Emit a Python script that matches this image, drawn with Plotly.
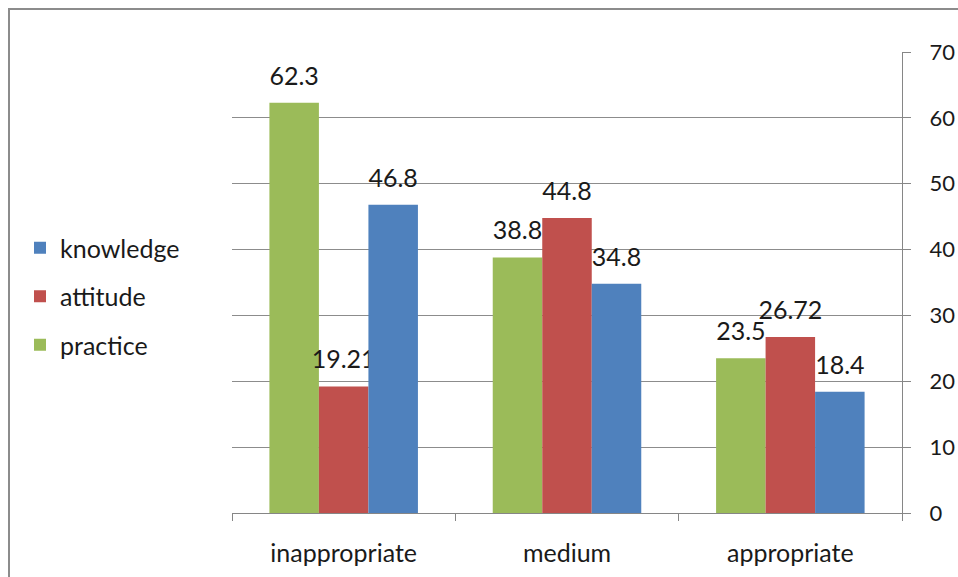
import plotly.graph_objects as go

categories = ["inappropriate", "medium", "appropriate"]
practice = [62.3, 38.8, 23.5]
attitude = [19.21, 44.8, 26.72]
knowledge = [46.8, 34.8, 18.4]
practice_labels = ["62.3", "38.8", "23.5"]
attitude_labels = ["19.21", "44.8", "26.72"]
knowledge_labels = ["46.8", "34.8", "18.4"]
y_ticks = [0, 10, 20, 30, 40, 50, 60, 70]

FONT = "Lato, Open Sans, sans-serif"
TXT = "#1a1a1a"
FS = 25

fig = go.Figure()
series = [
    ("practice", practice, practice_labels, "#9BBB59", 3),
    ("attitude", attitude, attitude_labels, "#C0504D", 2),
    ("knowledge", knowledge, knowledge_labels, "#4F81BD", 1),
]
for name, vals, labels, color, rank in series:
    fig.add_trace(go.Bar(
        name=name, x=categories, y=vals,
        text=["<span style='font-size:%dpx'>%s</span><br> " % (FS, lab) for lab in labels],
        textposition="outside", cliponaxis=False, constraintext="none",
        textfont=dict(family=FONT, size=10, color=TXT),
        marker=dict(color=color, line=dict(width=0)),
        legendgroup=name, legendrank=rank, hoverinfo="skip",
    ))

W, H = 958, 577
L, R, T, B = 232, 56, 52, 64
pw, ph = W - L - R, H - T - B

fig.update_layout(
    width=W, height=H,
    margin=dict(l=L, r=R, t=T, b=B, autoexpand=False),
    paper_bgcolor="white", plot_bgcolor="white",
    barmode="group", bargap=0.335, bargroupgap=0,
    showlegend=True,
    legend=dict(
        x=(20 - L) / pw, y=1 - (225 - 52) / ph, xanchor="left", yanchor="top",
        traceorder="grouped", tracegroupgap=13,
        font=dict(family=FONT, size=FS, color=TXT),
        itemsizing="constant", bgcolor="rgba(0,0,0,0)",
    ),
    xaxis=dict(
        showgrid=False, showline=True, linecolor="#868686", linewidth=1,
        ticks="outside", ticklen=7, tickcolor="#868686",
        tickson="boundaries", automargin=False,
        tickfont=dict(family=FONT, size=FS, color=TXT),
        ticklabelstandoff=18,
    ),
    yaxis=dict(
        side="right", range=[0, 70], tickvals=y_ticks,
        showgrid=True, gridcolor="#8c8c8c", gridwidth=1,
        showline=True, linecolor="#868686", linewidth=1,
        ticks="outside", ticklen=8, tickcolor="#868686",
        tickfont=dict(family=FONT, size=22, color=TXT),
        zeroline=False, ticklabelstandoff=14, automargin=False,
    ),
    shapes=[dict(
        type="rect", xref="paper", yref="paper",
        x0=(9 - L) / pw, x1=(W + 20 - L) / pw,
        y0=-(H + 20 - (H - B)) / ph, y1=1 + (T - 9) / ph,
        line=dict(color="#8c8c8c", width=2), fillcolor="rgba(0,0,0,0)",
        layer="below",
    )],
)

fig.write_html(
    "out.html",
    config={"displayModeBar": False},
    post_script="document.body.style.margin='0';document.body.style.overflow='hidden';",
)
